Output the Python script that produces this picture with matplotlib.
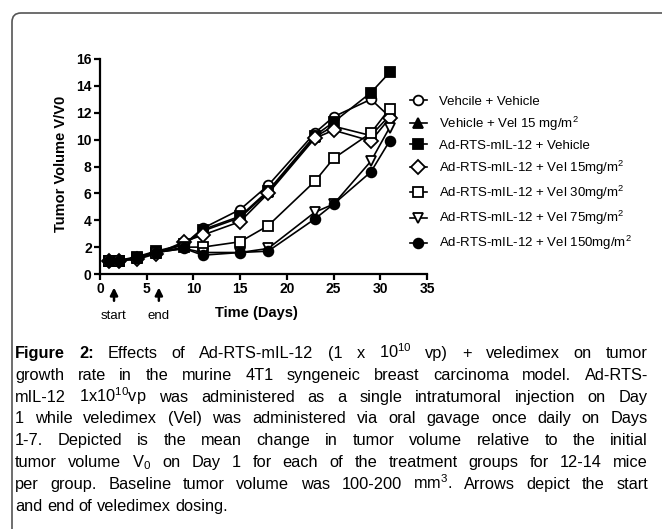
import matplotlib
matplotlib.use("Agg")
import matplotlib.pyplot as plt
from matplotlib.patches import FancyBboxPatch

plt.rcParams['font.family'] = ['Liberation Sans', 'DejaVu Sans']
plt.rcParams['mathtext.fontset'] = 'custom'
plt.rcParams['mathtext.rm'] = 'Liberation Sans'
plt.rcParams['mathtext.bf'] = 'Liberation Sans:bold'
plt.rcParams['mathtext.default'] = 'regular'

# data
days = [1, 2, 4, 6, 9, 11, 15, 18, 23, 25, 29, 31]
veh_veh = [1.0, 1.0, 1.2, 1.6, 2.2, 3.4, 4.8, 6.6, 10.5, 11.7, 13.0, 11.7]
veh_vel15 = [1.0, 1.0, 1.2, 1.6, 2.2, 3.2, 4.2, 6.1, 10.2, 11.0, 10.3, 11.8]
ad_veh = [1.0, 1.0, 1.3, 1.7, 2.2, 3.3, 4.3, 6.2, 10.3, 11.3, 13.5, 15.0]
ad_vel15 = [1.0, 1.0, 1.1, 1.5, 2.4, 2.9, 3.9, 6.0, 10.1, 10.7, 9.9, 11.6]
ad_vel30 = [1.0, 1.0, 1.2, 1.6, 2.0, 2.0, 2.4, 3.6, 6.9, 8.6, 10.5, 12.3]
ad_vel75 = [1.0, 1.0, 1.1, 1.6, 1.9, 1.6, 1.6, 1.9, 4.6, 5.2, 8.4, 10.9]
ad_vel150 = [1.0, 1.0, 1.2, 1.6, 1.9, 1.4, 1.6, 1.7, 4.1, 5.2, 7.6, 9.9]

labels = ["Vehcile + Vehicle",
          "Vehicle + Vel 15 mg/m$^2$",
          "Ad-RTS-mIL-12 + Vehicle",
          "Ad-RTS-mIL-12 + Vel 15mg/m$^2$",
          "Ad-RTS-mIL-12 + Vel 30mg/m$^2$",
          "Ad-RTS-mIL-12 + Vel 75mg/m$^2$",
          "Ad-RTS-mIL-12 + Vel 150mg/m$^2$"]
series = [veh_veh, veh_vel15, ad_veh, ad_vel15, ad_vel30, ad_vel75, ad_vel150]
markers = ['o', '^', 's', 'D', 's', 'v', 'o']
fills = ['white', 'black', 'black', 'white', 'white', 'white', 'black']
msizes = [7, 7, 6.5, 7.5, 7, 7.5, 7]

caption = [
    "*Figure *2: Effects of Ad-RTS-mIL-12 (1 x 10$^{10}$ vp) + veledimex on tumor",
    "growth rate in the murine 4T1 syngeneic breast carcinoma model. Ad-RTS-",
    "mIL-12 1x10$^{10}$vp was administered as a single intratumoral injection on Day",
    "1 while veledimex (Vel) was administered via oral gavage once daily on Days",
    "1-7.  Depicted is the mean change in tumor volume relative to the initial",
    "tumor volume V$_0$ on Day 1 for each of the treatment groups for 12-14 mice",
    "per group.  Baseline tumor volume was 100-200 mm$^3$.  Arrows depict the start",
    "and end of veledimex dosing.",
]

W, H = 662, 529
fig = plt.figure(figsize=(W / 100, H / 100), dpi=100)

# outer frame, open at right and bottom
frame = FancyBboxPatch((12, -60), 720, H - 13 + 60, boxstyle="round,pad=0,rounding_size=9",
                       transform=None, fill=False, edgecolor='#555555', linewidth=1.2)
fig.patches.append(frame)

ax = fig.add_axes([100 / W, (H - 274) / H, 327 / W, 215 / H])
for i, s in enumerate(series):
    ax.plot(days, s, color='black', lw=1.2, marker=markers[i], ms=msizes[i],
            mfc=fills[i], mec='black', mew=1.3, clip_on=False, label=labels[i],
            zorder=3 + i)

ax.set_xlim(0, 35)
ax.set_ylim(0, 16)
ax.set_xticks(range(0, 36, 5))
ax.set_yticks(range(0, 17, 2))
for side in ['top', 'right']:
    ax.spines[side].set_visible(False)
for side in ['left', 'bottom']:
    ax.spines[side].set_linewidth(1.6)
ax.tick_params(direction='out', length=4, width=1.6, labelsize=10, pad=2)
for lab in ax.get_xticklabels() + ax.get_yticklabels():
    lab.set_fontweight('bold')

fig.text(61 / W, 1 - 164 / H, "Tumor Volume V/V0", rotation=90, ha='center',
         va='center', fontsize=10.5, fontweight='bold')
fig.text(215 / W, 1 - 313 / H, "Time (Days)", ha='left', va='center',
         fontsize=10.5, fontweight='bold')

# dosing arrows
for d, txt in [(1.5, "start"), (6.3, "end")]:
    ax.annotate('', xy=(d, -0.8), xytext=(d, -2.2), annotation_clip=False,
                arrowprops=dict(arrowstyle='-|>', lw=1.8, color='black',
                                mutation_scale=11))
    ax.text(d, -3.1, txt, ha='center', va='center', fontsize=9.5, clip_on=False)

ax.legend(loc='upper left', bbox_to_anchor=(403 / W, 1 - 89 / H),
          bbox_transform=fig.transFigure, frameon=False, fontsize=9.5,
          handlelength=1.3, handletextpad=0.9, labelspacing=0.52, borderpad=0)

# justified caption
fig.canvas.draw()
renderer = fig.canvas.get_renderer()
left, right = 15, 648
fs = 11.8
y0, dy = 358, 21.8
probe1 = fig.text(0, 0, "a a", fontsize=fs)
probe2 = fig.text(0, 0, "aa", fontsize=fs)
space = probe1.get_window_extent(renderer).width - probe2.get_window_extent(renderer).width
probe1.remove()
probe2.remove()
for li, line in enumerate(caption):
    words = line.split()
    items = []
    for w in words:
        bold = w.startswith('*')
        w = w.replace('*', '')
        t = fig.text(0, 0, w, fontsize=fs, fontweight='bold' if bold else 'normal',
                     va='baseline', ha='left', transform=None)
        items.append((t, t.get_window_extent(renderer).width))
    total = sum(wd for _, wd in items)
    if li < len(caption) - 1 and len(items) > 1:
        gap = (right - left - total) / (len(items) - 1)
    else:
        gap = space
    x = left
    y = H - (y0 + li * dy)
    for t, wd in items:
        t.set_position((x, y))
        x += wd + gap

fig.savefig("out.png", dpi=100)
